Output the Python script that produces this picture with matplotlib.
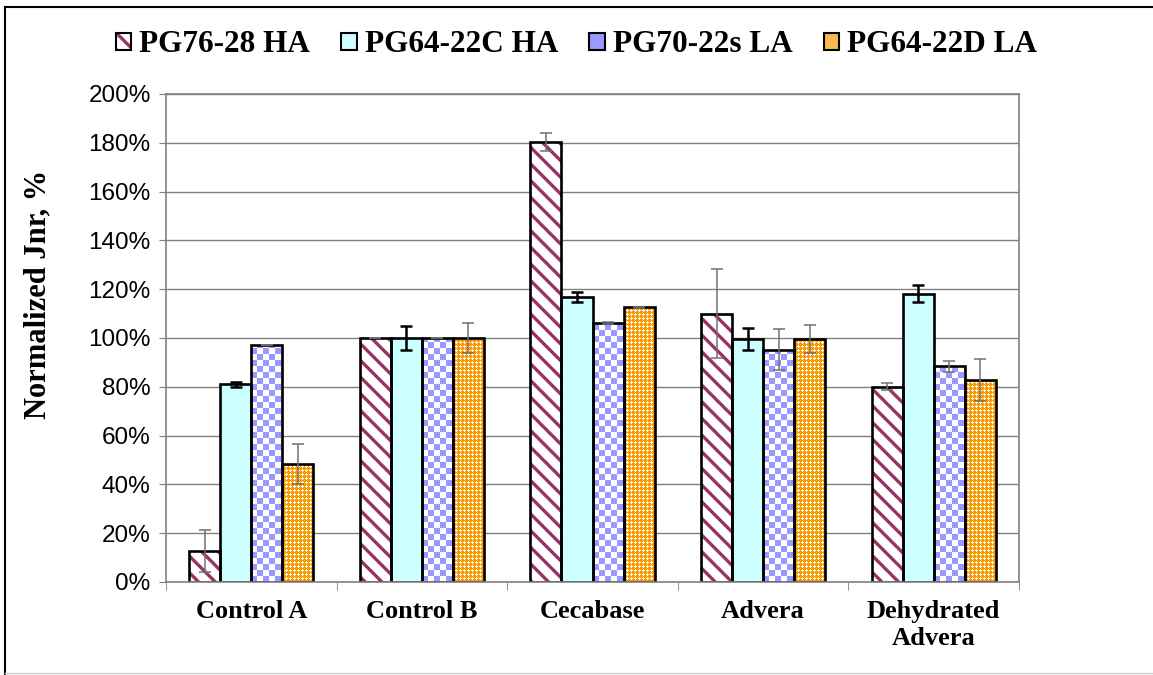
import numpy as np
import matplotlib
matplotlib.use("Agg")
from matplotlib import pyplot as plt
from matplotlib.patches import Patch, Rectangle
from matplotlib.collections import PatchCollection
from matplotlib.lines import Line2D

categories = ["Control A", "Control B", "Cecabase", "Advera", "Dehydrated\nAdvera"]
series = ["PG76-28 HA", "PG64-22C HA", "PG70-22s LA", "PG64-22D LA"]

pg76 = [12.7, 100.0, 180.4, 110.0, 80.1]
pg64c = [81.1, 100.0, 116.9, 99.6, 118.2]
pg70 = [97.1, 100.0, 106.1, 95.1, 88.4]
pg64d = [48.2, 100.0, 112.6, 99.6, 82.7]

pg76_err = [8.5, 0.0, 3.8, 18.1, 1.4]
pg64c_err = [1.0, 5.0, 2.0, 4.6, 3.4]
pg70_err = [0.0, 0.0, 0.5, 8.4, 2.3]
pg64d_err = [8.2, 6.3, 0.3, 5.8, 8.6]

yticks = [0, 20, 40, 60, 80, 100, 120, 140, 160, 180, 200]

SERIF = ["Liberation Serif", "DejaVu Serif"]
SANS = ["Liberation Sans", "DejaVu Sans"]
MAROON = "#993366"
CYAN = "#CCFFFF"
PURPLE = "#9999FF"
ORANGE = "#FF9900"
FRAME = "#808080"

plt.rcParams["hatch.linewidth"] = 2.4

fig = plt.figure(figsize=(11.53, 6.75), dpi=100)
ax = fig.add_axes([166 / 1153, 93 / 675, 853 / 1153, 488 / 675])
ax.set_xlim(-0.5, 4.5)
ax.set_ylim(0, 200)

# size of one screen pixel in data units
PX = 5 / 853
PY = 200 / 488

x = np.arange(len(categories))
w = 0.182
offs = [-1.5 * w, -0.5 * w, 0.5 * w, 1.5 * w]


def checker(bar, size=6):
    x0, y0 = bar.get_x(), bar.get_y()
    bw, bh = bar.get_width(), bar.get_height()
    nc = int(np.ceil(bw / (size * PX)))
    nr = int(np.ceil(bh / (size * PY)))
    rects = [Rectangle((x0 + c * size * PX, y0 + r * size * PY), size * PX, size * PY)
             for r in range(nr) for c in range(nc) if (r + c) % 2 == 0]
    pc = PatchCollection(rects, facecolor=PURPLE, edgecolor="none", zorder=2.1,
                         antialiased=False)
    ax.add_collection(pc)
    pc.set_clip_path(bar)


def lattice(bar, p=4):
    x0, y0 = bar.get_x(), bar.get_y()
    bw, bh = bar.get_width(), bar.get_height()
    nc = int(np.ceil(bw / (p * PX))) + 1
    nr = int(np.ceil(bh / (p * PY))) + 1
    rects = []
    for r in range(nr):
        for c in range(nc):
            cx = x0 + c * p * PX
            cy = y0 + r * p * PY
            rects.append(Rectangle((cx - 1.5 * PX, cy - 0.5 * PY), 3 * PX, 1 * PY))
            rects.append(Rectangle((cx - 0.5 * PX, cy - 1.5 * PY), 1 * PX, 3 * PY))
    pc = PatchCollection(rects, facecolor="white", edgecolor="none", zorder=2.1,
                         antialiased=False)
    ax.add_collection(pc)
    pc.set_clip_path(bar)


# series 1: striped
ax.bar(x + offs[0], pg76, w, facecolor="white", edgecolor=MAROON,
       hatch="\\\\", linewidth=0, zorder=2)
# series 2: plain cyan
ax.bar(x + offs[1], pg64c, w, facecolor=CYAN, edgecolor="none", zorder=2)
# series 3: checkerboard
for b in ax.bar(x + offs[2], pg70, w, facecolor="white", edgecolor="none", zorder=2):
    checker(b)
# series 4: orange lattice
for b in ax.bar(x + offs[3], pg64d, w, facecolor=ORANGE, edgecolor="none", zorder=2):
    lattice(b)

# black outlines
for vals, off in zip([pg76, pg64c, pg70, pg64d], offs):
    ax.bar(x + off, vals, w, fill=False, edgecolor="black", linewidth=1.9, zorder=2.5)

# error bars
ax.errorbar(x + offs[0], pg76, yerr=pg76_err, fmt="none", ecolor="#707070",
            elinewidth=1.1, capsize=4.5, capthick=1.1, zorder=3)
ax.errorbar(x + offs[1], pg64c, yerr=pg64c_err, fmt="none", ecolor="black",
            elinewidth=1.8, capsize=4.5, capthick=1.8, zorder=3)
ax.errorbar(x + offs[2], pg70, yerr=pg70_err, fmt="none", ecolor="#707070",
            elinewidth=1.1, capsize=4.5, capthick=1.1, zorder=3)
ax.errorbar(x + offs[3], pg64d, yerr=pg64d_err, fmt="none", ecolor="#707070",
            elinewidth=1.1, capsize=4.5, capthick=1.1, zorder=3)

# axes styling
ax.set_axisbelow(True)
ax.yaxis.grid(True, color=FRAME, linewidth=1.0)
for s in ax.spines.values():
    s.set_color(FRAME)
    s.set_linewidth(1.2)
ax.set_yticks(yticks)
ax.set_yticklabels([f"{t}%" for t in yticks], fontfamily=SANS, fontsize=17.5)
ax.tick_params(axis="y", direction="out", length=5, color=FRAME, pad=6)
ax.set_xticks(x)
ax.set_xticklabels(categories, fontfamily=SERIF, fontsize=19, fontweight="bold")
ax.tick_params(axis="x", length=0, pad=13)
ax.set_xticks(np.arange(-0.5, 5, 1), minor=True)
ax.tick_params(axis="x", which="minor", direction="out", length=6, color=FRAME)

fig.text(38 / 1153, 1 - 294 / 675, "Normalized Jnr, %", rotation=90,
         ha="center", va="center", fontfamily=SERIF, fontsize=22, fontweight="bold")

outline = Patch(fill=False, edgecolor="black", linewidth=1.5)
handles = [
    (Patch(facecolor="white", edgecolor=MAROON, hatch="\\\\", linewidth=0), outline),
    Patch(facecolor=CYAN, edgecolor="black", linewidth=1.5),
    Patch(facecolor=PURPLE, edgecolor="black", linewidth=1.5),
    Patch(facecolor="#F9B94E", edgecolor="black", linewidth=1.5),
]
fig.legend(handles, series, loc="center", bbox_to_anchor=(0.5, 1 - 45 / 675),
           ncol=4, frameon=False, handlelength=0.5, handleheight=0.5,
           handletextpad=0.25, columnspacing=1.0,
           prop={"family": SERIF, "weight": "bold", "size": 22.5})

# outer border
fig.add_artist(Line2D([5 / 1153, 5 / 1153], [0, 1 - 7 / 675], transform=fig.transFigure,
                      color="black", linewidth=1.5))
fig.add_artist(Line2D([5 / 1153, 1], [1 - 7 / 675, 1 - 7 / 675], transform=fig.transFigure,
                      color="black", linewidth=1.5))
fig.add_artist(Line2D([5 / 1153, 1], [2 / 675, 2 / 675], transform=fig.transFigure,
                      color="#d0d0d0", linewidth=1.0))

fig.savefig("out.png", dpi=100)
